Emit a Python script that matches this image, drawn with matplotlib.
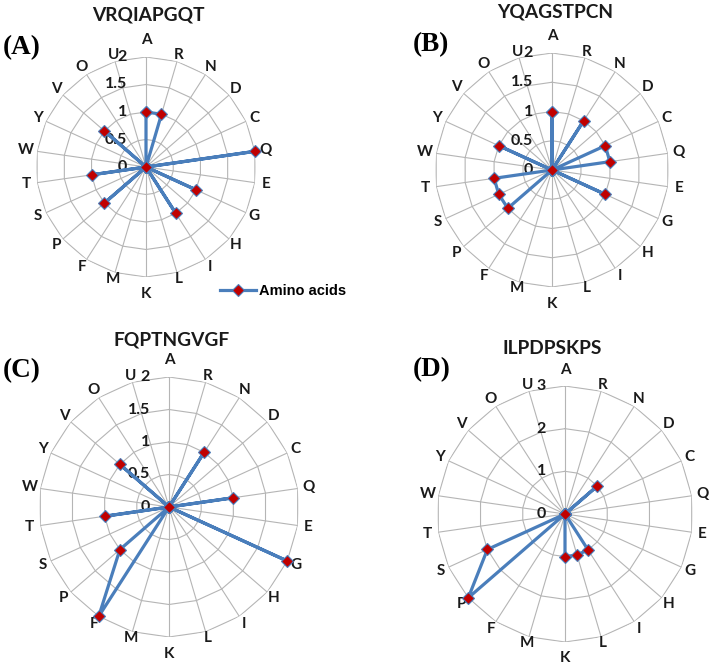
import numpy as np
import matplotlib
matplotlib.use('Agg')
import matplotlib.pyplot as plt
from matplotlib.lines import Line2D

categories = ['A', 'R', 'N', 'D', 'C', 'Q', 'E', 'G', 'H', 'I', 'L',
              'K', 'M', 'F', 'P', 'S', 'T', 'W', 'Y', 'V', 'O', 'U']

peptides = ['VRQIAPGQT', 'YQAGSTPCN', 'FQPTNGVGF', 'ILPDPSKPS']
panel_tags = ['(A)', '(B)', '(C)', '(D)']

counts_a = [1, 1, 0, 0, 0, 2, 0, 1, 0, 1, 0, 0, 0, 0, 1, 0, 1, 0, 0, 1, 0, 0]
counts_b = [1, 0, 1, 0, 1, 1, 0, 1, 0, 0, 0, 0, 0, 0, 1, 1, 1, 0, 1, 0, 0, 0]
counts_c = [0, 0, 1, 0, 0, 1, 0, 2, 0, 0, 0, 0, 0, 2, 1, 0, 1, 0, 0, 1, 0, 0]
counts_d = [0, 0, 0, 1, 0, 0, 0, 0, 0, 1, 1, 1, 0, 0, 3, 2, 0, 0, 0, 0, 0, 0]

ticks_abc = [0, 0.5, 1, 1.5, 2]
ticks_d = [0, 1, 2, 3]

W, H = 711, 667
LINE_C = '#4a7ebb'
MARK_C = '#c00000'
GRID_C = '#b5b5b5'
TEXT_C = '#1a1a1a'

# panel geometry in pixels: centre x, centre y (from top), radius
panels = [
    dict(cx=146, cy=167, r=110, data=counts_a, ticks=ticks_abc,
         title_xy=(148, 15), tag_xy=(3, 48)),
    dict(cx=552, cy=170, r=117, data=counts_b, ticks=ticks_abc,
         title_xy=(555, 12), tag_xy=(413, 45)),
    dict(cx=169, cy=507, r=130, data=counts_c, ticks=ticks_abc,
         title_xy=(172, 340), tag_xy=(3, 371)),
    dict(cx=565, cy=514, r=128, data=counts_d, ticks=ticks_d,
         title_xy=(552, 349), tag_xy=(413, 370)),
]


def label_gap(th):
    # pixel distance of a category label centre beyond the outer ring
    c = abs(np.cos(th))
    if c > 0.999:
        return 16.5
    if c > 0.9:
        return 6.5
    if c < 0.2:
        return 11
    return 9


fig = plt.figure(figsize=(W / 100, H / 100), dpi=100)
fig.patch.set_facecolor('white')

n = len(categories)
theta = np.arange(n) * 2 * np.pi / n
theta_closed = np.append(theta, theta[0])

for p, pep, tag in zip(panels, peptides, panel_tags):
    left = (p['cx'] - p['r']) / W
    bottom = (H - p['cy'] - p['r']) / H
    ax = fig.add_axes([left, bottom, 2 * p['r'] / W, 2 * p['r'] / H],
                      projection='polar')
    ax.set_theta_zero_location('N')
    ax.set_theta_direction(-1)
    rmax = p['ticks'][-1]
    ax.set_ylim(0, rmax)
    ax.set_axis_off()

    # polygon grid
    for t in p['ticks'][1:]:
        ax.plot(theta_closed, [t] * (n + 1), color=GRID_C, lw=0.8, zorder=1)
    for th in theta:
        ax.plot([th, th], [0, rmax], color=GRID_C, lw=0.8, zorder=1)

    # category labels
    for th, c in zip(theta, categories):
        g = label_gap(th)
        ax.annotate(c, xy=(th, rmax), xytext=(g * np.sin(th), g * np.cos(th)),
                    textcoords='offset pixels', ha='center', va='center',
                    fontsize=11, fontweight='bold', family='Lato',
                    color=TEXT_C, annotation_clip=False)

    # value labels
    for t in p['ticks']:
        ax.annotate('%g' % t, xy=(0, t), xytext=(-19, 0),
                    textcoords='offset pixels', ha='right', va='center',
                    fontsize=11.5, fontweight='bold', family='Lato',
                    color=TEXT_C, annotation_clip=False, zorder=2)

    vals = list(p['data']) + [p['data'][0]]
    ax.plot(theta_closed, vals, color=LINE_C, lw=2.3, marker='D',
            markersize=6.5, markerfacecolor=MARK_C, markeredgecolor=LINE_C,
            markeredgewidth=0.8, zorder=3, clip_on=False)

    fig.text(p['title_xy'][0] / W, 1 - p['title_xy'][1] / H, pep,
             ha='center', va='center', fontsize=13.8, fontweight='bold',
             family='Lato', color=TEXT_C)
    fig.text(p['tag_xy'][0] / W, 1 - p['tag_xy'][1] / H, tag,
             ha='left', va='center', fontsize=19.5, fontweight='bold',
             family='Liberation Serif')

handle = Line2D([], [], color=LINE_C, lw=2.3, marker='D', markersize=6.5,
                markerfacecolor=MARK_C, markeredgecolor=LINE_C,
                markeredgewidth=0.8)
fig.legend(handles=[handle], labels=['Amino acids'], loc='center left',
           bbox_to_anchor=(220 / W, 1 - 291 / H), frameon=False,
           borderpad=0, borderaxespad=0, handlelength=2.5, handletextpad=0.2,
           prop=dict(family='Liberation Sans', weight='bold', size=10.5))

fig.savefig('out.png', dpi=100, facecolor='white')
